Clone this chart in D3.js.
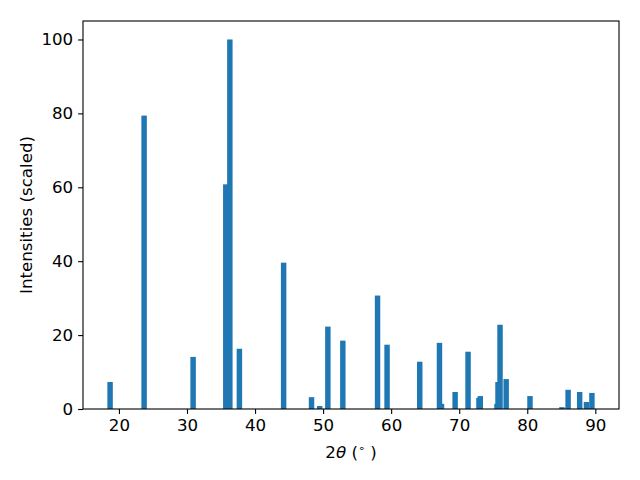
<!DOCTYPE html>
<html>
<head>
<meta charset="utf-8">
<script src="https://cdn.jsdelivr.net/npm/d3@7"></script>
<style>
  html, body { margin: 0; padding: 0; background: #fff; }
  text { font-family: "DejaVu Sans", sans-serif; }
</style>
</head>
<body>
<svg id="chart" width="640" height="480"></svg>
<script>
// Peak positions (2θ, degrees)
const positions = [18.7, 23.7, 30.9, 35.7, 36.3, 37.7, 44.2, 48.3, 49.5, 50.7,
                   52.9, 58.0, 59.4, 64.2, 67.1, 67.4, 69.4, 71.3, 72.9, 73.1,
                   75.55, 75.7, 76.0, 76.9, 80.4, 85.1, 86.0, 87.7, 88.7, 89.5];
// Scaled intensities
const intensities = [7.3, 79.4, 14.1, 60.8, 100, 16.3, 39.6, 3.2, 0.8, 22.3,
                     18.5, 30.7, 17.4, 12.8, 17.9, 1.4, 4.6, 15.5, 3.0, 3.5,
                     1.4, 7.3, 22.8, 8.1, 3.5, 0.5, 5.2, 4.6, 1.9, 4.35];
const xTicks = [20, 30, 40, 50, 60, 70, 80, 90];
const yTicks = [0, 20, 40, 60, 80, 100];
const barWidth = 0.8;

(function () {
const data = positions.map((p, i) => ({x: p, y: intensities[i]}));

const svg = d3.select("#chart");
const mLeft = 83, mRight = 619, mTop = 21, mBottom = 409;

const xmin = d3.min(positions) - barWidth / 2, xmax = d3.max(positions) + barWidth / 2;
const xm = (xmax - xmin) * 0.05;
const x = d3.scaleLinear().domain([xmin - xm, xmax + xm]).range([mLeft, mRight]);
const y = d3.scaleLinear().domain([0, d3.max(intensities) * 1.05]).range([mBottom, mTop]);

svg.append("g").selectAll("rect").data(data).join("rect")
  .attr("x", d => x(d.x - barWidth / 2))
  .attr("width", d => x(d.x + barWidth / 2) - x(d.x - barWidth / 2))
  .attr("y", d => y(d.y))
  .attr("height", d => y(0) - y(d.y))
  .attr("fill", "#1f77b4");

const fs = "16.67px";

const xAxis = svg.append("g").attr("transform", `translate(0,${mBottom})`)
  .call(d3.axisBottom(x).tickValues(xTicks).tickSize(4.9).tickPadding(4.9).tickFormat(d3.format("d")));
const yAxis = svg.append("g").attr("transform", `translate(${mLeft},0)`)
  .call(d3.axisLeft(y).tickValues(yTicks).tickSize(4.9).tickPadding(4.9).tickFormat(d3.format("d")));
[xAxis, yAxis].forEach(g => {
  g.select(".domain").remove();
  g.selectAll(".tick line").attr("stroke", "#000").attr("stroke-width", 1.1);
  g.selectAll(".tick text").attr("fill", "#000").style("font-size", fs)
    .style("font-family", "'DejaVu Sans', sans-serif");
});

// frame
svg.append("rect")
  .attr("x", mLeft).attr("y", mTop)
  .attr("width", mRight - mLeft).attr("height", mBottom - mTop)
  .attr("fill", "none").attr("stroke", "#000").attr("stroke-width", 1.1);

// x label
const xl = svg.append("text")
  .attr("x", (mLeft + mRight) / 2).attr("y", 458)
  .attr("text-anchor", "middle").style("font-size", fs).attr("fill", "#000");
xl.append("tspan").text("2");
xl.append("tspan").style("font-style", "italic").text("θ");
xl.append("tspan").text(" (");
xl.append("tspan").attr("dy", -6).style("font-size", "11px").text("∘");
xl.append("tspan").attr("dy", 6).text(" )");

// y label
svg.append("text")
  .attr("transform", `translate(32,${(mTop + mBottom) / 2}) rotate(-90)`)
  .attr("text-anchor", "middle").style("font-size", fs).attr("fill", "#000")
  .text("Intensities (scaled)");
})();
</script>
</body>
</html>
